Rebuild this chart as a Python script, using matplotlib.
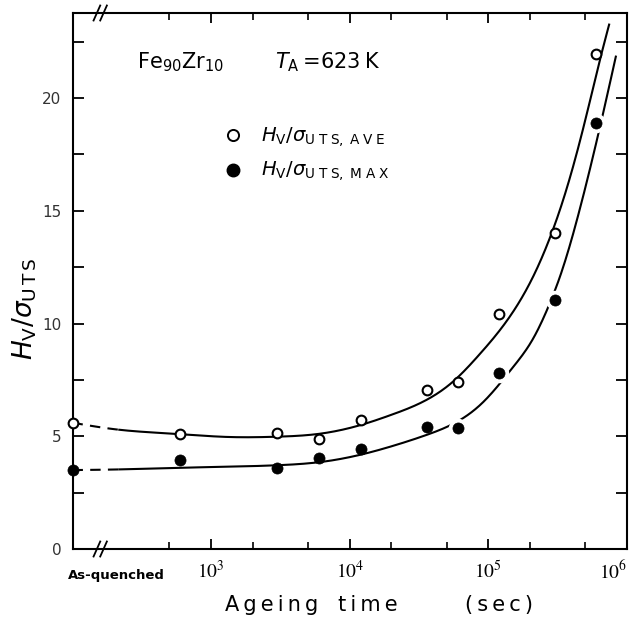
import numpy as np
import matplotlib
matplotlib.use("Agg")
import matplotlib.pyplot as plt
from matplotlib.ticker import FixedLocator, NullFormatter

# ---------------- data ----------------
as_quenched_time = 1e2          # plotted at the left edge (axis break)
aq_ave = 5.6
aq_max = 3.5
ageing_time_s = [600, 3000, 6000, 12000, 36000, 60000, 120000, 300000, 600000]
hv_ave = [5.1, 5.15, 4.9, 5.7, 7.05, 7.4, 10.4, 14.0, 21.95]
hv_max = [3.95, 3.6, 4.05, 4.45, 5.42, 5.35, 7.8, 11.05, 18.9]

# hand-drawn guide curves (log10 time, value)
guide_ave_logt = [2.0, 2.32, 2.76, 3.11, 3.476, 3.77, 4.08, 4.3, 4.55, 4.75, 4.936, 5.176,
                  5.344, 5.45, 5.53, 5.633, 5.728, 5.805, 5.873]
guide_ave_y = [5.6, 5.3, 5.1, 4.97, 4.98, 5.1, 5.5, 5.95, 6.6, 7.45, 8.63, 10.5,
               12.35, 13.9, 15.3, 17.45, 19.75, 21.7, 23.3]
guide_max_logt = [2.0, 2.34, 2.76, 3.2, 3.5, 3.78, 4.07, 4.31, 4.55, 4.79, 4.96, 5.176,
                  5.32, 5.44, 5.512, 5.572, 5.656, 5.752, 5.86, 5.921]
guide_max_y = [3.5, 3.53, 3.6, 3.66, 3.72, 3.85, 4.17, 4.57, 5.05, 5.7, 6.5, 8.05,
               9.3, 10.85, 12.0, 13.14, 14.99, 17.34, 20.2, 21.88]
dash_end_logt = 2.33

x_major = [1e3, 1e4, 1e5, 1e6]
x_major_labels = [r"$10^{3}$", r"$10^{4}$", r"$10^{5}$", r"$10^{6}$"]
x_minor = [5e2, 2e3, 5e3, 2e4, 5e4, 2e5, 5e5]
y_major = [0, 5, 10, 15, 20]
y_minor = [2.5, 7.5, 12.5, 17.5, 22.5]


def natural_spline(xk, yk, xs):
    xk = np.asarray(xk, float); yk = np.asarray(yk, float)
    n = len(xk)
    h = np.diff(xk)
    A = np.zeros((n, n)); b = np.zeros(n)
    A[0, 0] = 1; A[-1, -1] = 1
    for i in range(1, n - 1):
        A[i, i - 1] = h[i - 1]
        A[i, i] = 2 * (h[i - 1] + h[i])
        A[i, i + 1] = h[i]
        b[i] = 6 * ((yk[i + 1] - yk[i]) / h[i] - (yk[i] - yk[i - 1]) / h[i - 1])
    M = np.linalg.solve(A, b)
    idx = np.clip(np.searchsorted(xk, xs) - 1, 0, n - 2)
    x0 = xk[idx]; x1 = xk[idx + 1]; hh = x1 - x0
    t0 = x1 - xs; t1 = xs - x0
    return (M[idx] * t0**3 / (6 * hh) + M[idx + 1] * t1**3 / (6 * hh)
            + (yk[idx] / hh - M[idx] * hh / 6) * t0
            + (yk[idx + 1] / hh - M[idx + 1] * hh / 6) * t1)


W, H = 637, 617
fig = plt.figure(figsize=(W / 100, H / 100), dpi=100)
L, R, T, B = 72.5, 627, 13, 549
ax = fig.add_axes([L / W, 1 - B / H, (R - L) / W, (B - T) / H])
ax.set_xscale("log")
ax.set_xlim(1e2, 1e6)
ax.set_ylim(0, (B - T) / 22.55)

lw = 1.5
# guide curves
for lk, yk in [(guide_ave_logt, guide_ave_y), (guide_max_logt, guide_max_y)]:
    xs_d = np.linspace(lk[0], dash_end_logt, 40)
    xs_s = np.linspace(dash_end_logt, lk[-1], 500)
    ax.plot(10**xs_d, natural_spline(lk, yk, xs_d), color="black", lw=lw,
            dashes=(5, 3.5), zorder=2, clip_on=False)
    ax.plot(10**xs_s, natural_spline(lk, yk, xs_s), color="black", lw=lw,
            zorder=2, solid_capstyle="butt")

# white halos around filled points where the drawn line is interrupted
t_arr = np.array(ageing_time_s); m_arr = np.array(hv_max)
halo = t_arr >= 60000
ax.plot(t_arr[halo], m_arr[halo], "o", ms=14, color="white", mec="none", zorder=3)

# data points
ax.plot(ageing_time_s, hv_ave, "o", ms=7, mfc="white", mec="black", mew=1.5, zorder=4)
ax.plot(ageing_time_s, hv_max, "o", ms=8, mfc="black", mec="black", mew=0.5, zorder=4)
ax.plot([as_quenched_time], [aq_ave], "o", ms=7, mfc="white", mec="black", mew=1.5,
        zorder=5, clip_on=False)
ax.plot([as_quenched_time], [aq_max], "o", ms=8, mfc="black", mec="black", mew=0.5,
        zorder=5, clip_on=False)

# axes styling
for s in ax.spines.values():
    s.set_linewidth(1.5)
ax.xaxis.set_major_locator(FixedLocator(x_major))
ax.xaxis.set_minor_locator(FixedLocator(x_minor))
ax.xaxis.set_minor_formatter(NullFormatter())
ax.set_xticklabels(x_major_labels, math_fontfamily="stix", fontsize=14)
ax.get_xticklabels()[-1].set_horizontalalignment("right")
ax.yaxis.set_major_locator(FixedLocator(y_major))
ax.yaxis.set_minor_locator(FixedLocator(y_minor))
ax.set_yticklabels([str(v) for v in y_major], fontsize=11, family="DejaVu Sans",
                   color="#333333")
ax.tick_params(axis="x", which="major", direction="in", length=7, width=1.3,
               top=True, pad=8)
ax.tick_params(axis="x", which="minor", direction="in", length=5, width=1.2, top=True)
ax.tick_params(axis="y", which="both", direction="in", length=8, width=1.3,
               right=True, pad=8)

# axis break marks
for ypos in (0, 1):
    for dx in (-0.006, 0.006):
        xc = 0.05 + dx
        ax.plot([xc - 0.006, xc + 0.006], [ypos - 0.014, ypos + 0.014],
                transform=ax.transAxes, color="black", lw=1.3, clip_on=False, zorder=6)

fig.text(68 / W, 1 - 579 / H, "As-quenched", ha="left", va="baseline",
         fontsize=9.5, fontweight="bold", family="DejaVu Sans")

ts = "\u2009"
fig.text(25 / W, 1 - 309 / H, r"$H_{\rm V}/\sigma_{\rm U\,T\,S}$", rotation=90,
         ha="center", va="center", fontsize=19)
fig.text(311 / W, 1 - 611 / H, ts.join("Ageing") + "   " + ts.join("time"),
         ha="center", va="baseline", fontsize=15, family="DejaVu Sans")
fig.text(499 / W, 1 - 611 / H, ts.join("(sec)"), ha="center", va="baseline",
         fontsize=15, family="DejaVu Sans")

fig.text(137 / W, 1 - 68 / H, r"Fe$_{90}$Zr$_{10}$", ha="left", va="baseline",
         fontsize=15, family="DejaVu Sans")
fig.text(275 / W, 1 - 68 / H, r"$T_{\rm A}$" + ts + "=623" + ts + "K", ha="left",
         va="baseline", fontsize=15, family="DejaVu Sans")

# legend (drawn manually)
ax.plot([(233 - L) / (R - L)], [1 - (135 - T) / (B - T)], "o", ms=8, mfc="white",
        mec="black", mew=1.4, transform=ax.transAxes, clip_on=False)
ax.plot([(233 - L) / (R - L)], [1 - (170 - T) / (B - T)], "o", ms=9, mfc="black",
        mec="black", transform=ax.transAxes, clip_on=False)
ax.text((261 - L) / (R - L), 1 - (142 - T) / (B - T),
        r"$H_{\rm V}/\sigma_{\rm U\;T\;S,\;A\;V\;E}$",
        transform=ax.transAxes, ha="left", va="baseline", fontsize=14)
ax.text((261 - L) / (R - L), 1 - (176 - T) / (B - T),
        r"$H_{\rm V}/\sigma_{\rm U\;T\;S,\;M\;A\;X}$",
        transform=ax.transAxes, ha="left", va="baseline", fontsize=14)

fig.savefig("out.png", dpi=100)
